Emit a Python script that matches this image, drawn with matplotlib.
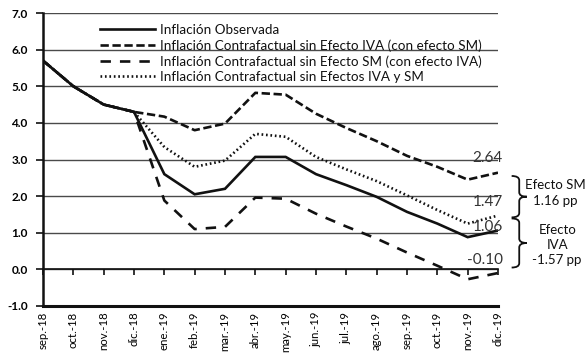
import matplotlib
matplotlib.use('Agg')
import matplotlib.pyplot as plt
from matplotlib.path import Path
from matplotlib.patches import PathPatch

plt.rcParams['font.family'] = ['Lato', 'DejaVu Sans']
plt.rcParams['lines.scale_dashes'] = False

months = ['sep.-18', 'oct.-18', 'nov.-18', 'dic.-18', 'ene.-19', 'feb.-19', 'mar.-19',
          'abr.-19', 'may.-19', 'jun.-19', 'jul.-19', 'ago.-19', 'sep.-19', 'oct.-19',
          'nov.-19', 'dic.-19']
observada = [5.7, 5.0, 4.5, 4.3, 2.6, 2.05, 2.2, 3.07, 3.07, 2.6, 2.3, 1.98, 1.57, 1.25, 0.88, 1.06]
sin_iva = [5.7, 5.0, 4.5, 4.3, 4.17, 3.8, 3.98, 4.82, 4.77, 4.25, 3.86, 3.5, 3.1, 2.8, 2.45, 2.64]
sin_sm = [5.7, 5.0, 4.5, 4.3, 1.88, 1.1, 1.16, 1.96, 1.93, 1.52, 1.17, 0.84, 0.46, 0.1, -0.27, -0.10]
sin_ambos = [5.7, 5.0, 4.5, 4.3, 3.34, 2.8, 2.97, 3.7, 3.62, 3.07, 2.73, 2.41, 2.02, 1.62, 1.25, 1.47]
labels = ['Inflación Observada',
          'Inflación Contrafactual sin Efecto IVA (con efecto SM)',
          'Inflación Contrafactual sin Efecto SM (con efecto IVA)',
          'Inflación Contrafactual sin Efectos IVA y SM']
end_labels = ['2.64', '1.47', '1.06', '-0.10']
end_values = [2.64, 1.47, 1.06, -0.10]
end_offsets = [0.39, 0.37, 0.1, 0.35]
yticks = [-1.0, 0.0, 1.0, 2.0, 3.0, 4.0, 5.0, 6.0, 7.0]

W, H = 587, 354
fig = plt.figure(figsize=(W / 100, H / 100), dpi=100)
ax = fig.add_axes([43 / W, 1 - 306 / H, (498 - 43) / W, (306 - 13) / H])

x = list(range(len(months)))
ink = '#111111'
ax.plot(x, observada, color=ink, lw=1.9, label=labels[0], solid_joinstyle='miter')
ax.plot(x, sin_iva, color=ink, lw=1.9, linestyle=(0, (6, 2.6)), label=labels[1])
ax.plot(x, sin_sm, color=ink, lw=1.9, linestyle=(0, (7.5, 6.5)), label=labels[2])
ax.plot(x, sin_ambos, color=ink, lw=1.9, linestyle=(0, (1.2, 2.0)), label=labels[3])

ax.set_xlim(0, 15)
ax.set_ylim(-1, 7)
ax.set_yticks(yticks)
ax.set_yticklabels([f'{v:.1f}' for v in yticks], fontsize=8.5, fontweight='bold')
for v in yticks[1:]:
    ax.axhline(v, color='#4a4a4a', lw=1.0, zorder=0)

ax.set_xticks(x)
ax.set_xticklabels(months, rotation=90, fontsize=8.2, va='top', ha='center')
ax.tick_params(axis='x', length=0, pad=4)
ax.tick_params(axis='y', length=5, width=1.2, direction='out', pad=6, color=ink)
for s in ['top', 'right']:
    ax.spines[s].set_visible(False)
ax.spines['left'].set_linewidth(1.8)
ax.spines['bottom'].set_linewidth(2.2)
ax.spines['left'].set_color(ink)
ax.spines['bottom'].set_color(ink)

sec = ax.secondary_xaxis(1 / 8)
sec.set_xticks(x)
sec.set_xticklabels([])
sec.tick_params(axis='x', length=4, width=1.2, direction='out', color=ink)
sec.spines['bottom'].set_linewidth(1.2)
sec.spines['bottom'].set_color(ink)

for lab, v, off in zip(end_labels, end_values, end_offsets):
    ax.text(15.15, v + off, lab, ha='right', va='center', fontsize=11, color='#333333', clip_on=False)

def brace(ax, xl, yt, yb, w):
    xm = xl + w * 0.5
    xp = xl + w
    mid = (yt + yb) / 2
    r = 0.12
    verts = [(xl, yt), (xm, yt), (xm, yt - r), (xm, mid + r), (xm, mid), (xp, mid),
             (xm, mid), (xm, mid - r), (xm, yb + r), (xm, yb), (xl, yb)]
    codes = [Path.MOVETO, Path.CURVE3, Path.CURVE3, Path.LINETO, Path.CURVE3, Path.CURVE3,
             Path.CURVE3, Path.CURVE3, Path.LINETO, Path.CURVE3, Path.CURVE3]
    p = PathPatch(Path(verts, codes), fill=False, lw=1.3, edgecolor=ink, clip_on=False)
    ax.add_patch(p)

brace(ax, 15.45, 2.55, 1.42, 0.5)
brace(ax, 15.45, 1.39, 0.05, 0.5)
ax.text(16.88, 2.08, 'Efecto SM\n1.16 pp', ha='center', va='center', fontsize=9.5,
        color=ink, linespacing=1.35, clip_on=False)
ax.text(16.95, 0.66, 'Efecto\nIVA\n-1.57 pp', ha='center', va='center', fontsize=9.5,
        color=ink, linespacing=1.3, clip_on=False)

leg = ax.legend(loc='upper left', bbox_to_anchor=(100 / W, 1 - 24 / H),
                bbox_transform=fig.transFigure, frameon=False, fontsize=9.7,
                handlelength=4.05, handletextpad=0.38, labelspacing=0.24,
                borderpad=0, borderaxespad=0)
for t in leg.get_texts():
    t.set_color(ink)

fig.savefig('out.png', dpi=100, facecolor='white')
